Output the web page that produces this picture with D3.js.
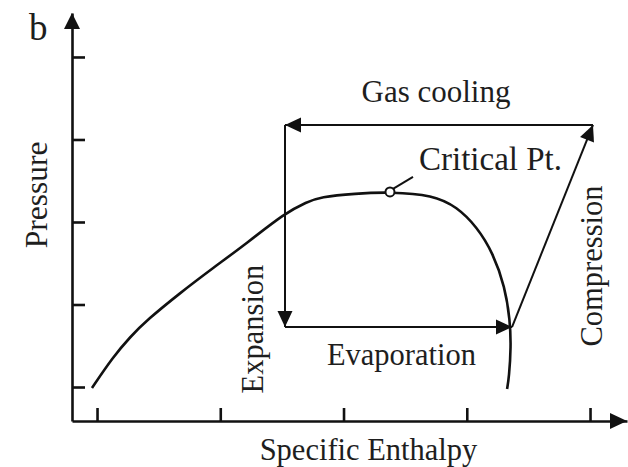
<!DOCTYPE html>
<html>
<head>
<meta charset="utf-8">
<script src="https://cdn.jsdelivr.net/npm/d3@7"></script>
<style>
  html, body { margin: 0; padding: 0; background: #fff; }
  svg { display: block; }
  text { font-family: "Liberation Serif", "Times New Roman", serif; fill: #1e1e1e; }
</style>
</head>
<body>
<svg id="chart" width="628" height="467"></svg>
<script>
// ---- data (arbitrary units: specific enthalpy h, pressure p) ----
const enthalpyTicks = [1, 2, 3, 4, 5];
const pressureTicks = [1, 2, 3, 4, 5];

// saturation dome (liquid line -> critical point -> vapour line)
const domeH = [0.959, 1.130, 1.268, 1.406, 1.673, 1.941, 2.217, 2.525, 2.704, 2.809, 3.093, 3.377, 3.726, 3.921, 4.083, 4.213, 4.310, 4.351, 4.359, 4.343, 4.327];
const domeP = [0.988, 1.364, 1.606, 1.812, 2.139, 2.442, 2.745, 3.109, 3.242, 3.303, 3.345, 3.364, 3.327, 3.182, 2.939, 2.624, 2.212, 1.812, 1.485, 1.121, 0.976];

const criticalH = 3.377;
const criticalP = 3.364;

// transcritical cycle state points: 1 evaporator in, 2 compressor in, 3 gas cooler in, 4 gas cooler out
const cycleH = [2.525, 4.367, 5.024, 2.525];
const cycleP = [1.727, 1.727, 4.176, 4.176];
const processNames = ["Evaporation", "Compression", "Gas cooling", "Expansion"];
// process i goes from state from[i] to state to[i]
const processFrom = [0, 1, 2, 3];
const processTo = [1, 2, 3, 0];

const xLabel = "Specific Enthalpy";
const yLabel = "Pressure";
const panelLabel = "b";
const criticalLabel = "Critical Pt.";

// ---- drawing ----
const svg = d3.select("#chart");
const x = d3.scaleLinear().domain([0.797, 5.3]).range([72, 627]);
const y = d3.scaleLinear().domain([0.588, 5.533]).range([421, 13]);
const ink = "#111";

function arrowHead(tx, ty, fx, fy, len, half) {
  const a = Math.atan2(ty - fy, tx - fx);
  const bx = tx - len * Math.cos(a), by = ty - len * Math.sin(a);
  const px = -Math.sin(a) * half, py = Math.cos(a) * half;
  return `M${tx},${ty}L${bx + px},${by + py}L${bx - px},${by - py}Z`;
}

// axes
const xAxis = d3.axisBottom(x).tickValues(enthalpyTicks).tickFormat("").tickSize(-13).tickSizeOuter(0);
const yAxis = d3.axisLeft(y).tickValues(pressureTicks).tickFormat("").tickSize(-13).tickSizeOuter(0);
const gx = svg.append("g").attr("transform", `translate(0,${y.range()[0]})`).call(xAxis);
const gy = svg.append("g").attr("transform", `translate(${x.range()[0]},0)`).call(yAxis);
[gx, gy].forEach(g => {
  g.select(".domain").attr("stroke", ink).attr("stroke-width", 2.6);
  g.selectAll(".tick line").attr("stroke", ink).attr("stroke-width", 2.6);
});
// axis arrowheads
const x0 = x.range()[0], x1 = x.range()[1], y0 = y.range()[0], y1 = y.range()[1];
svg.append("path").attr("d", arrowHead(x1, y0, x0, y0, 17, 8)).attr("fill", ink);
svg.append("path").attr("d", arrowHead(x0, y1, x0, y0, 16, 8)).attr("fill", ink);

// saturation dome
const dome = domeH.map((h, i) => [h, domeP[i]]);
svg.append("path")
  .datum(dome)
  .attr("d", d3.line().x(d => x(d[0])).y(d => y(d[1])).curve(d3.curveBasis))
  .attr("fill", "none").attr("stroke", ink).attr("stroke-width", 2.6);

// cycle processes
processNames.forEach((name, i) => {
  const fx = x(cycleH[processFrom[i]]), fy = y(cycleP[processFrom[i]]);
  const tx = x(cycleH[processTo[i]]), ty = y(cycleP[processTo[i]]);
  svg.append("line").attr("x1", fx).attr("y1", fy).attr("x2", tx).attr("y2", ty)
    .attr("stroke", ink).attr("stroke-width", 2);
  svg.append("path").attr("d", arrowHead(tx, ty, fx, fy, 16, 7.5)).attr("fill", ink);
});

// critical point
const cx = x(criticalH), cy = y(criticalP);
svg.append("line").attr("x1", cx + 3).attr("y1", cy - 3).attr("x2", cx + 23).attr("y2", cy - 15)
  .attr("stroke", ink).attr("stroke-width", 2);
svg.append("circle").attr("cx", cx).attr("cy", cy).attr("r", 4.5)
  .attr("fill", "#fff").attr("stroke", ink).attr("stroke-width", 2);
svg.append("text").attr("x", cx + 29).attr("y", cy - 22).attr("font-size", 33).text(criticalLabel);

// process labels
const fs = 30.5;
const midX = i => (x(cycleH[processFrom[i]]) + x(cycleH[processTo[i]])) / 2;
// Evaporation (below line)
svg.append("text").attr("x", midX(0) + 3).attr("y", y(cycleP[0]) + 38)
  .attr("text-anchor", "middle").attr("font-size", fs).text(processNames[0]);
// Gas cooling (above line)
svg.append("text").attr("x", midX(2) - 3).attr("y", y(cycleP[2]) - 23)
  .attr("text-anchor", "middle").attr("font-size", 31).text(processNames[2]);
// Compression (vertical, right of the compressor line)
svg.append("text")
  .attr("transform", `translate(${x(cycleH[2]) + 9},${(y(cycleP[1]) + y(cycleP[2])) / 2 + 40}) rotate(-90)`)
  .attr("text-anchor", "middle").attr("font-size", fs).text(processNames[1]);
// Expansion (vertical, left of the expansion line)
svg.append("text")
  .attr("transform", `translate(${x(cycleH[3]) - 22},${y(cycleP[0]) + 2}) rotate(-90)`)
  .attr("text-anchor", "middle").attr("font-size", fs).text(processNames[3]);

// axis titles
svg.append("text").attr("x", (x0 + x1) / 2 + 19).attr("y", 460)
  .attr("text-anchor", "middle").attr("font-size", fs).text(xLabel);
svg.append("text").attr("transform", `translate(47,${(y0 + y1) / 2 - 22}) rotate(-90)`)
  .attr("text-anchor", "middle").attr("font-size", 31.5).text(yLabel);
svg.append("text").attr("x", 29).attr("y", 40).attr("font-size", 37).text(panelLabel);
</script>
</body>
</html>
